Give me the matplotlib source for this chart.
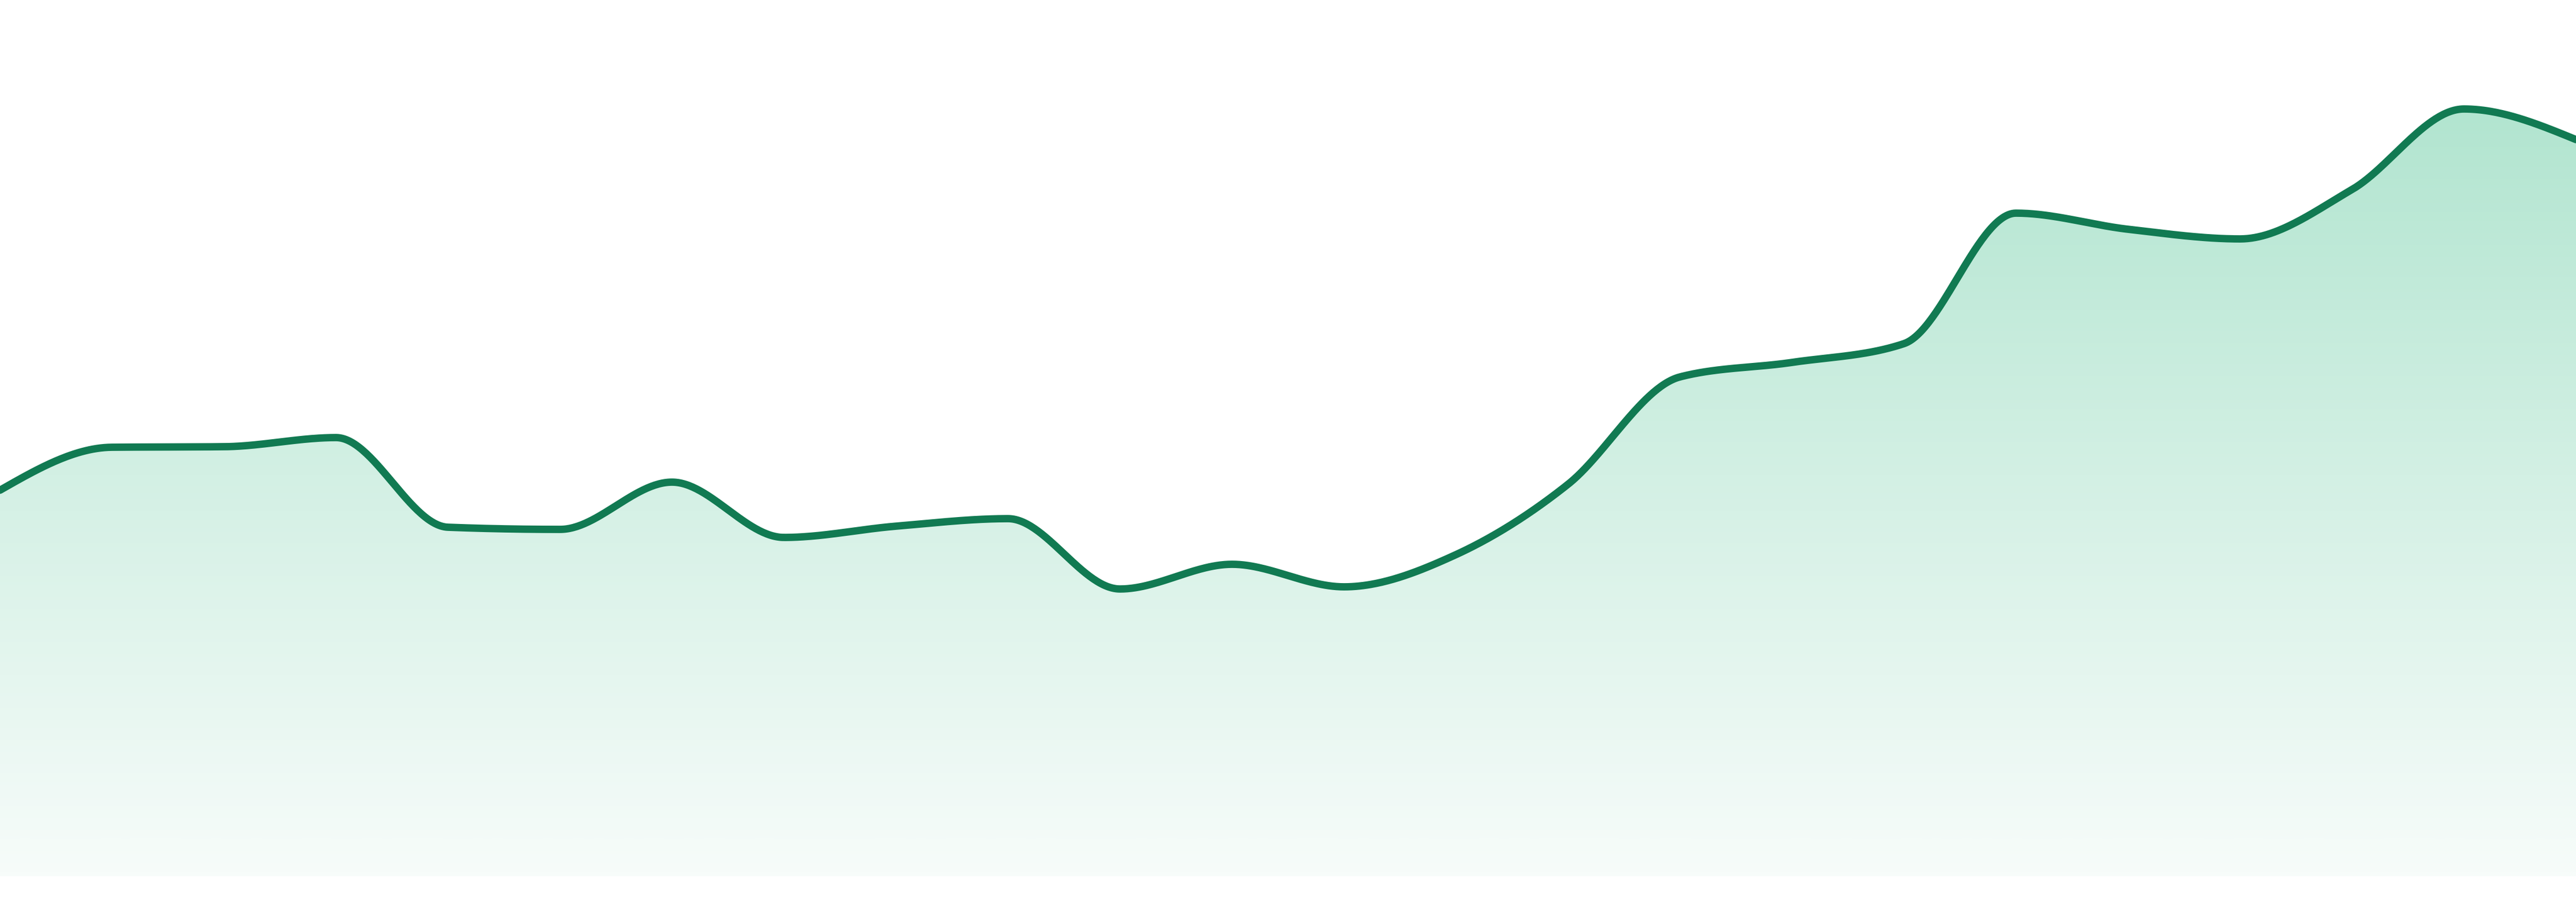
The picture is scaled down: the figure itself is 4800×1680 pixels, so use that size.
import numpy as np
import matplotlib
matplotlib.use("Agg")
import matplotlib.pyplot as plt
from matplotlib.patches import Polygon
from matplotlib.colors import LinearSegmentedColormap

# one point per day
days = list(range(1, 25))
values = [719, 799, 800, 817, 650, 646, 734, 631, 652, 666, 535, 581,
          539, 599, 730, 930, 957, 992, 1235, 1205, 1187, 1279, 1429, 1372]

line_color = "#117A52"
fill_top = "#B2E5D0"
fill_bottom = "#F7FCFA"


def monotone_x(x, y, n=60):
    # same slopes as d3.curveMonotoneX, drawn as cubic hermite pieces
    x = np.asarray(x, float)
    y = np.asarray(y, float)
    h = np.diff(x)
    s = np.diff(y) / h
    t = np.zeros(len(x))
    for i in range(1, len(x) - 1):
        p = (s[i - 1] * h[i] + s[i] * h[i - 1]) / (h[i - 1] + h[i])
        t[i] = (np.sign(s[i - 1]) + np.sign(s[i])) * min(abs(s[i - 1]), abs(s[i]), 0.5 * abs(p))
    t[0] = (3 * s[0] - t[1]) / 2
    t[-1] = (3 * s[-1] - t[-2]) / 2

    xs, ys = [], []
    u = np.linspace(0, 1, n)
    for i in range(len(x) - 1):
        h00 = 2 * u**3 - 3 * u**2 + 1
        h10 = u**3 - 2 * u**2 + u
        h01 = -2 * u**3 + 3 * u**2
        h11 = u**3 - u**2
        seg = h00 * y[i] + h10 * h[i] * t[i] + h01 * y[i + 1] + h11 * h[i] * t[i + 1]
        xs.append(x[i] + u * h[i])
        ys.append(seg)
    return np.concatenate(xs), np.concatenate(ys)


xs, ys = monotone_x(days, values)

fig = plt.figure(figsize=(16, 5.6), dpi=300)
ax = fig.add_axes([0, 48 / 1680, 1, 1632 / 1680])

# vertical gradient under the line
cmap = LinearSegmentedColormap.from_list("area", [fill_bottom, fill_top])
grad = np.linspace(0, 1, 256).reshape(-1, 1)
im = ax.imshow(grad, extent=[days[0], days[-1], 0, max(values)], origin="lower",
               aspect="auto", cmap=cmap, interpolation="bicubic", zorder=1)
verts = np.column_stack([np.r_[xs, xs[-1], xs[0]], np.r_[ys, 0, 0]])
area = Polygon(verts, closed=True, facecolor="none", edgecolor="none")
ax.add_patch(area)
im.set_clip_path(area)

ax.plot(xs, ys, color=line_color, lw=3.3, solid_capstyle="round",
        solid_joinstyle="round", zorder=3)

ax.set_xlim(days[0], days[-1])
ax.set_ylim(0, 1632)
ax.axis("off")

fig.savefig("out.png", dpi=300)
